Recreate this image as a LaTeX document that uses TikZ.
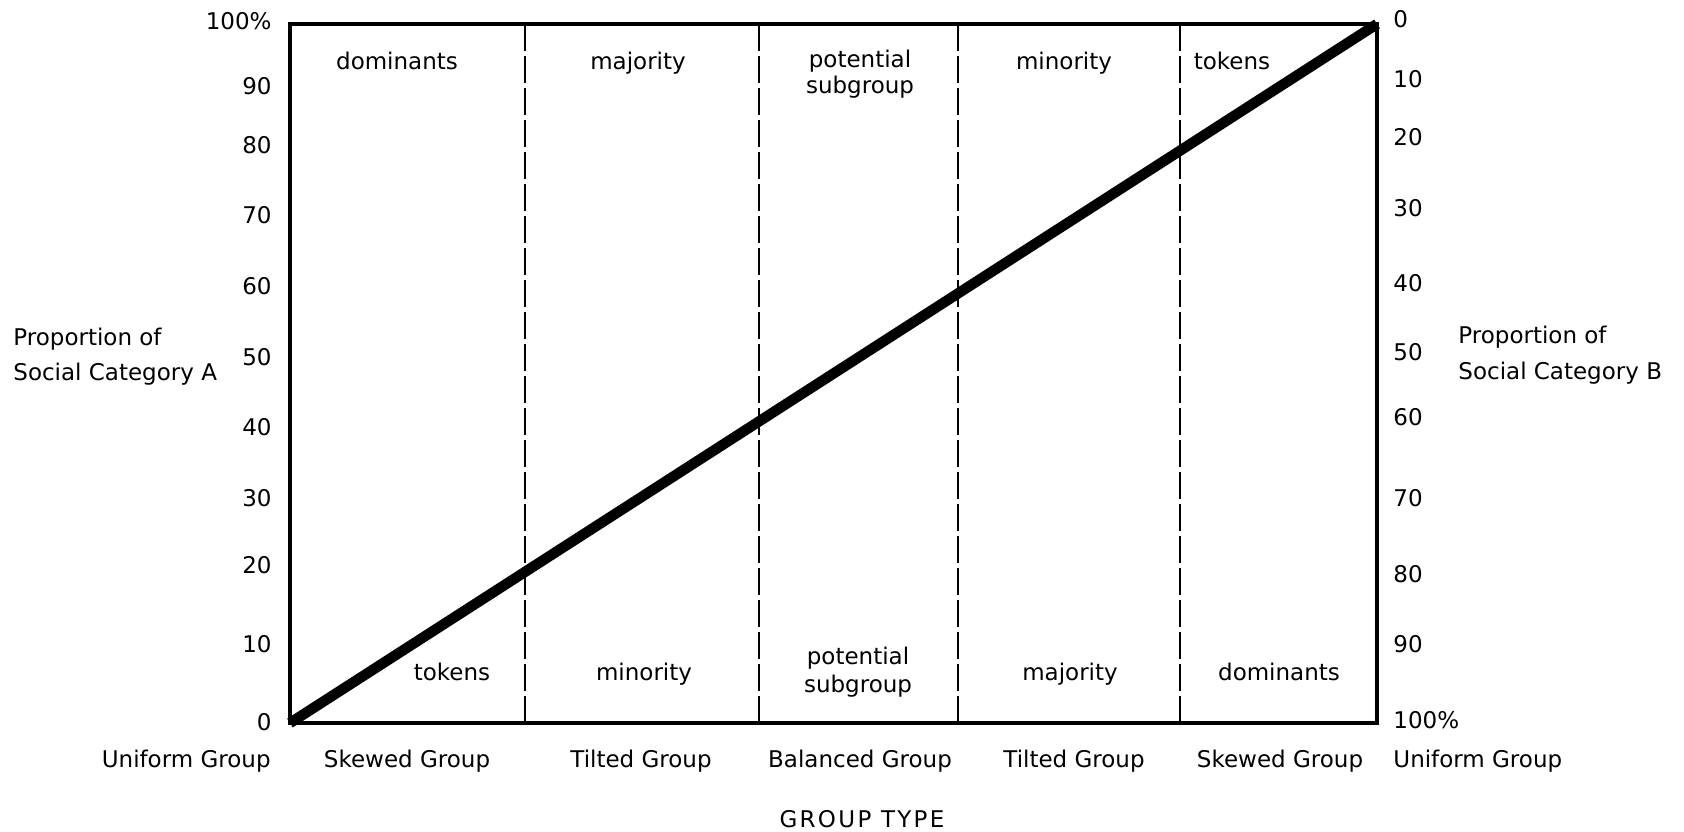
\documentclass[tikz,border=0pt]{standalone}
\usepackage{fontspec}
\setmainfont{DejaVu Sans}
\newfontfamily\spacedfont[LetterSpace=10]{DejaVu Sans}
\usetikzlibrary{positioning}

\begin{document}
\begin{tikzpicture}[x=0.5pt,y=-0.5pt,
		frame/.style={line width=2pt,line join=miter},
		divider/.style={line width=1.2pt,dash pattern=on 13.5pt off 2.5pt},
		trend/.style={line width=5.2pt},
		word/.style={font=\fontsize{11.5}{14}\selectfont,inner sep=0pt,anchor=base},
		tick left/.style={font=\fontsize{11.5}{14}\selectfont,inner sep=0pt,anchor=east},
		tick right/.style={font=\fontsize{11.5}{14}\selectfont,inner sep=0pt,anchor=west}]
		\useasboundingbox (0,0) rectangle (1684,831);
		\coordinate (tl) at (290,24);
		\coordinate (br) at (1377,723);
		\coordinate (bl) at (290,723);
		\coordinate (tr) at (1377,24);
		\foreach \x [count=\i] in {525,759,958,1180}
		\draw[divider] (\x,24) coordinate (top\i) -- (\x,723) coordinate (bot\i);
		\draw[frame] (tl) rectangle (br);
		\draw[trend] (bl) -- (tr);
		\foreach \v/\y [count=\i] in {100\%/21,90/86,80/145,70/215,60/286,50/357,40/427,30/498,20/565,10/644,0/722}
		\node[tick left] (ta\i) at (272,\y) {\v};
		\foreach \v/\y [count=\i] in {0/19,10/79,20/137,30/208,40/283,50/352,60/417,70/498,80/574,90/644,100\%/720}
		\node[tick right] (tb\i) at (1393,\y) {\v};
		\node[word] (hiA) at (397,69) {dominants};
		\node[word] (hiB) at (638,69) {majority};
		\node[word] (hiC) at (860,67) {potential};
		\node[word] (hiCC) at (860,93) {subgroup};
		\node[word] (hiD) at (1064,69) {minority};
		\node[word] (hiE) at (1232,69) {tokens};
		\node[word] (loA) at (452,680) {tokens};
		\node[word] (loB) at (644,680) {minority};
		\node[word] (loC) at (858,664) {potential};
		\node[word] (loCC) at (858,692) {subgroup};
		\node[word] (loD) at (1070,680) {majority};
		\node[word] (loE) at (1279,680) {dominants};
		\node[word,anchor=base east] (gA) at (271,767) {Uniform Group};
		\node[word] (gB) at (407,767) {Skewed Group};
		\node[word] (gC) at (641,767) {Tilted Group};
		\node[word] (gD) at (860,767) {Balanced Group};
		\node[word] (gE) at (1074,767) {Tilted Group};
		\node[word] (gF) at (1280,767) {Skewed Group};
		\node[word,anchor=base west] (gG) at (1393,767) {Uniform Group};
		\node[word,font=\spacedfont\fontsize{11.5}{14}\selectfont] (gtype) at (862,827) {GROUP TYPE};
		\node[word,anchor=base west] (catA) at (13,345) {Proportion of};
		\node[word,anchor=base west] (catAA) at (13,380) {Social Category A};
		\node[word,anchor=base west] (catB) at (1458,343) {Proportion of};
		\node[word,anchor=base west] (catBB) at (1458,379) {Social Category B};
\end{tikzpicture}
\end{document}
